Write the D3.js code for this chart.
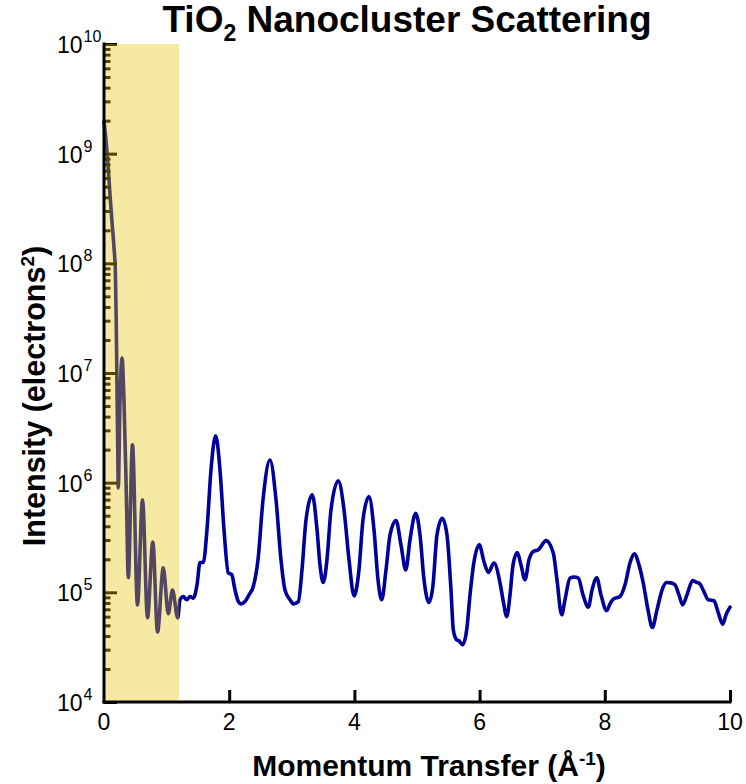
<!DOCTYPE html>
<html>
<head>
<meta charset="utf-8">
<script src="https://cdn.jsdelivr.net/npm/d3@7"></script>
<style>
html,body{margin:0;padding:0;background:#fff;}
svg{display:block;font-family:"Liberation Sans",Arial,Helvetica,sans-serif;}
</style>
</head>
<body>
<svg id="chart" width="746" height="784"></svg>
<script>
// ---- data ----
const chartTitle = "TiO₂ Nanocluster Scattering";
const xTitle = "Momentum Transfer";
const yTitle = "Intensity";
const qValues = [
  0, 0.032, 0.064, 0.096, 0.128, 0.160, 0.181, 0.195, 0.208, 0.220, 0.228, 0.256, 0.288, 0.319, 0.359, 0.388,
  0.455, 0.535, 0.615, 0.695, 0.78, 0.855, 0.947, 1.027, 1.094, 1.177,
  1.214, 1.267, 1.321, 1.374, 1.427, 1.486, 1.534, 1.586, 1.645, 1.709, 1.784, 1.853, 1.917,
  1.986, 2.040, 2.093, 2.146, 2.188, 2.252, 2.316, 2.385, 2.460, 2.540, 2.652, 2.748, 2.827,
  2.891, 2.971, 3.024, 3.104, 3.163, 3.227, 3.327, 3.403, 3.450, 3.503, 3.562, 3.626, 3.743,
  3.834, 3.914, 3.994, 4.073, 4.137, 4.233, 4.313, 4.377, 4.436, 4.505, 4.569, 4.665, 4.744,
  4.820, 4.888, 4.979, 5.048, 5.112, 5.192, 5.256, 5.319, 5.404, 5.479, 5.543, 5.580, 5.634,
  5.671, 5.730, 5.794, 5.847, 5.899, 5.995, 6.070, 6.139, 6.230, 6.326, 6.374, 6.433, 6.486,
  6.534, 6.602, 6.661, 6.725, 6.789, 6.858, 6.938, 7.061, 7.177, 7.236, 7.311, 7.364, 7.444,
  7.508, 7.577, 7.652, 7.737, 7.796, 7.871, 7.939, 8.030, 8.083, 8.136, 8.243, 8.323, 8.403,
  8.471, 8.546, 8.615, 8.690, 8.759, 8.834, 8.914, 8.989, 9.058, 9.121, 9.185, 9.244, 9.313,
  9.403, 9.457, 9.521, 9.585, 9.653, 9.744, 9.808, 9.883, 9.936, 10.0
];
const intensityValues = [
  1.95e9, 1.33e9, 7.89e8, 4.21e8, 2.38e8, 1.38e8, 8.71e7, 3.05e7, 7.02e6, 1.99e6, 8.97e5, 5.69e6, 1.37e7, 5.7e6, 6.97e5, 1.36e5,
  2.21e6, 7.69e4, 6.97e5, 5.86e4, 2.88e5, 4.35e4, 1.67e5, 6.37e4, 1.05e5, 5.86e4,
  8.55e4, 9.16e4, 8.55e4, 9.16e4, 8.85e4, 1.17e5, 1.87e5, 1.87e5, 3.72e5, 1.31e6, 2.67e6, 1.31e6, 3.72e5,
  1.50e5, 1.45e5, 1.05e5, 8.24e4, 7.85e4, 8.24e4, 9.48e4, 1.13e5, 1.98e5, 6.97e5, 1.61e6, 6.97e5, 1.98e5,
  1.05e5, 8.55e4, 7.85e4, 8.24e4, 1.60e5, 4.58e5, 7.74e5, 3.72e5, 1.78e5, 1.23e5, 1.98e5, 5.65e5, 1.04e6,
  5.65e5, 1.98e5, 9.29e4, 1.60e5, 4.58e5, 7.46e5, 3.72e5, 1.30e5, 8.55e4, 1.60e5, 3.34e5, 4.52e5, 2.71e5,
  1.60e5, 3.01e5, 5.27e5, 3.34e5, 1.30e5, 8.07e4, 1.17e5, 3.34e5, 4.74e5, 3.34e5, 1.05e5, 4.55e4, 3.69e4,
  3.61e4, 3.33e4, 4.55e4, 9.48e4, 1.72e5, 2.71e5, 1.90e5, 1.52e5, 1.85e5, 1.22e5, 8.55e4, 6.01e4, 9.48e4,
  1.78e5, 2.31e5, 1.78e5, 1.30e5, 1.98e5, 2.36e5, 2.44e5, 2.96e5, 2.28e5, 1.30e5, 6.24e4, 8.55e4, 1.35e5,
  1.38e5, 1.35e5, 9.48e4, 7.33e4, 1.05e5, 1.36e5, 9.48e4, 6.82e4, 7.85e4, 8.67e4, 9.16e4, 1.17e5, 1.86e5,
  2.24e5, 1.78e5, 1.21e5, 6.92e4, 4.78e4, 6.92e4, 1.05e5, 1.23e5, 1.22e5, 1.17e5, 9.48e4, 7.69e4, 9.48e4,
  1.28e5, 1.24e5, 1.19e5, 1.01e5, 8.55e4, 8.38e4, 6.64e4, 5.13e4, 6.24e4, 7.33e4
];
const xTickValues = [0, 2, 4, 6, 8, 10];
const yExponents = [4, 5, 6, 7, 8, 9, 10];
const highlightRange = [0, 1.2];

// ---- layout ----
const svg = d3.select("#chart");
const x = d3.scaleLinear().domain([0, 10]).range([104, 730]);
const y = d3.scaleLog().domain([1e4, 1e10]).range([702, 44]);

const points = qValues.map((q, i) => [q, intensityValues[i]]);

// curve
const line = d3.line().x(d => x(d[0])).y(d => y(d[1])).curve(d3.curveMonotoneX);
svg.append("path").datum(points)
  .attr("d", line)
  .attr("fill", "none")
  .attr("stroke", "#00009c")
  .attr("stroke-width", 3.6)
  .attr("stroke-linejoin", "round")
  .attr("stroke-linecap", "round");

// y ticks (inward)
const majorY = yExponents.map(e => Math.pow(10, e));
const minorY = [];
yExponents.slice(0, -1).forEach(e => { for (let m = 2; m <= 9; m++) minorY.push(m * Math.pow(10, e)); });

const yMajorAxis = d3.axisLeft(y).tickValues(majorY).tickSize(-13).tickFormat("");
const yMinorAxis = d3.axisLeft(y).tickValues(minorY).tickSize(-6.5).tickFormat("");
const gyMin = svg.append("g").attr("transform", `translate(${x(0)},0)`).call(yMinorAxis);
const gyMaj = svg.append("g").attr("transform", `translate(${x(0)},0)`).call(yMajorAxis);
[gyMin, gyMaj].forEach(g => {
  g.select(".domain").remove();
  g.selectAll(".tick line").attr("stroke", "#000").attr("stroke-width", 3);
});

// x ticks (inward)
const xAxis = d3.axisBottom(x).tickValues(xTickValues.filter(v => v > 0)).tickSize(-12).tickFormat("");
const gx = svg.append("g").attr("transform", `translate(0,${y(1e4)})`).call(xAxis);
gx.select(".domain").remove();
gx.selectAll(".tick line").attr("stroke", "#000").attr("stroke-width", 3);

// highlighted band (translucent, drawn over the curve)
svg.append("rect")
  .attr("x", x(highlightRange[0]))
  .attr("y", y(1e10))
  .attr("width", x(highlightRange[1]) - x(highlightRange[0]))
  .attr("height", y(1e4) - y(1e10))
  .attr("fill", "#e3c300")
  .attr("fill-opacity", 0.36);

// axis lines
svg.append("line").attr("x1", x(0)).attr("x2", x(0)).attr("y1", y(1e10) - 1.5).attr("y2", y(1e4) + 1.5)
  .attr("stroke", "#000").attr("stroke-width", 3);
svg.append("line").attr("x1", x(0) - 1.5).attr("x2", x(10) + 1.5).attr("y1", y(1e4)).attr("y2", y(1e4))
  .attr("stroke", "#000").attr("stroke-width", 3);

// y tick labels
yExponents.forEach(e => {
  const t = svg.append("text").attr("x", 57).attr("y", y(Math.pow(10, e)) + 9)
    .attr("font-size", 23).attr("fill", "#000");
  t.append("tspan").text("10");
  t.append("tspan").attr("font-size", 16).attr("dx", 1).attr("dy", -11).text(String(e));
});

// x tick labels
xTickValues.forEach(v => {
  svg.append("text").attr("x", x(v)).attr("y", 730).attr("text-anchor", "middle")
    .attr("font-size", 23).attr("fill", "#000").text(String(v));
});

// title
const tt = svg.append("text").attr("x", 407).attr("y", 32).attr("text-anchor", "middle")
  .attr("font-size", 37).attr("font-weight", "bold").attr("fill", "#000");
tt.append("tspan").text("TiO");
tt.append("tspan").attr("font-size", 23).attr("dy", 9).text("2");
tt.append("tspan").attr("dy", -9).text(" Nanocluster Scattering");

// x title
const xt = svg.append("text").attr("x", 429).attr("y", 776).attr("text-anchor", "middle")
  .attr("font-size", 30).attr("font-weight", "bold").attr("fill", "#000");
xt.append("tspan").text(xTitle + " (Å");
xt.append("tspan").attr("font-size", 19).attr("dy", -11).text("-1");
xt.append("tspan").attr("dy", 11).text(")");

// y title
const yt = svg.append("text").attr("transform", "translate(45,396) rotate(-90)").attr("text-anchor", "middle")
  .attr("font-size", 30.5).attr("font-weight", "bold").attr("fill", "#000");
yt.append("tspan").text(yTitle + " (electrons");
yt.append("tspan").attr("font-size", 19).attr("dy", -11).text("2");
yt.append("tspan").attr("dy", 11).text(")");
</script>
</body>
</html>
